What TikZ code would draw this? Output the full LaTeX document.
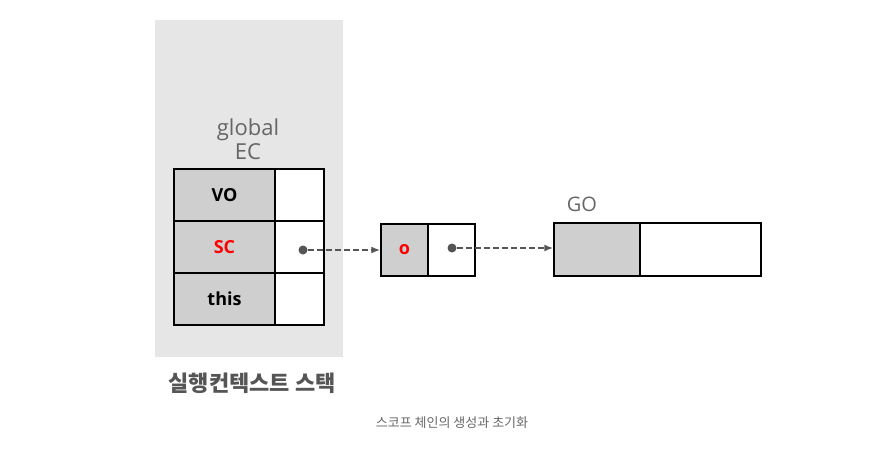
\documentclass[tikz,border=0pt]{standalone}
\usepackage{fontspec}
\setmainfont{Open Sans}
\newfontfamily\kr{Noto Sans CJK KR}
\usetikzlibrary{arrows.meta}

\definecolor{stackbg}{HTML}{E6E6E6}
\definecolor{cellgray}{HTML}{D0CFD0}
\definecolor{txtgray}{HTML}{666666}
\definecolor{arrgray}{HTML}{555555}

\tikzset{
  keycell/.style={draw=black, line width=1.4pt, fill=cellgray, inner sep=0pt,
    minimum height=52pt, font=\fontsize{18}{18}\selectfont\bfseries},
  valcell/.style={draw=black, line width=1.4pt, fill=white, inner sep=0pt,
    minimum height=52pt},
  ref/.style={-{Latex[length=9pt,width=7pt]}, dashed, dash pattern=on 6pt off 3pt,
    line width=2pt, draw=arrgray},
  refdot/.style={circle, fill=arrgray, inner sep=0pt, minimum size=9pt},
}

\begin{document}
\begin{tikzpicture}[x=1pt,y=-1pt]
        \useasboundingbox (0,0) rectangle (895,455);

        % execution context stack
        \fill[stackbg] (155,20) rectangle (343,357);
        \node[txtgray, align=center, font=\fontsize{22}{24}\selectfont] (ectitle) at (248,139) {global\\EC};

        % global EC
        \node[keycell, minimum width=101pt] (vo) at (224.5,195) {VO};
        \node[keycell, minimum width=101pt, text=red] (sc) at (224.5,247) {SC};
        \node[keycell, minimum width=101pt] (this) at (224.5,299) {this};
        \node[valcell, minimum width=49pt] (voval) at (299.5,195) {};
        \node[valcell, minimum width=49pt] (scval) at (299.5,247) {};
        \node[valcell, minimum width=49pt] (thisval) at (299.5,299) {};

        % scope chain
        \node[keycell, minimum width=47pt, text=red] (o) at (404.5,250) {o};
        \node[valcell, minimum width=47pt] (oval) at (451.5,250) {};

        % global object
        \node[keycell, minimum width=86pt, minimum height=53pt] (go) at (597,249.5) {};
        \node[valcell, minimum width=121pt, minimum height=53pt] (goval) at (700.5,249.5) {};
        \node[txtgray, font=\fontsize{20}{20}\selectfont] (golabel) at (582,204) {GO};

        % references
        \node[refdot] (scdot) at (303,250) {};
        \node[refdot] (odot) at (452,248) {};
        \draw[ref] (scdot) -- (o.west);
        \draw[ref] (odot) -- (go.west |- odot);

        % captions
        \node[arrgray, font=\kr\bfseries\fontsize{22}{22}\selectfont] (stacklabel) at (252,383) {실행컨텍스트 스택};
        \node[txtgray, font=\kr\fontsize{13}{13}\selectfont] (caption) at (452,423) {스코프 체인의 생성과 초기화};
\end{tikzpicture}
\end{document}
